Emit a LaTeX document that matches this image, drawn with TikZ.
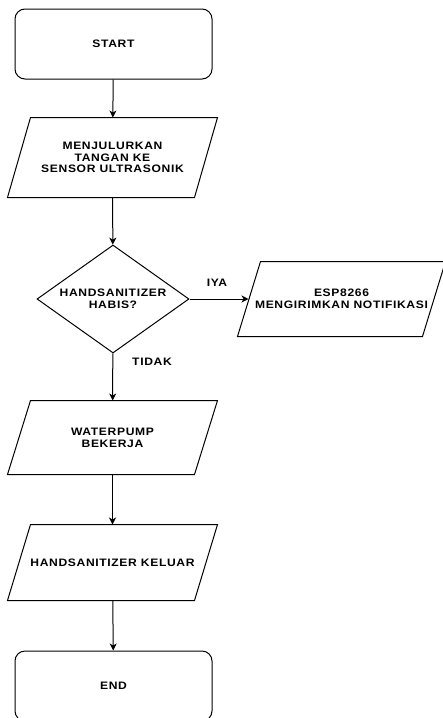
\documentclass[tikz,border=0pt]{standalone}
\usepackage{fontspec}
\setmainfont{Liberation Sans}[LetterSpace=6, FakeStretch=1.12]
\usetikzlibrary{shapes.geometric,arrows.meta}
\tikzset{
  txt/.style={font=\fontsize{10.8}{11.7}\selectfont\bfseries},
  base/.style={txt, draw=black, line width=1pt, inner sep=0pt, align=center},
  terminal/.style={base, rectangle, rounded corners=10pt, minimum width=197pt, minimum height=70pt},
  io/.style={base, draw=none, rectangle, minimum width=209pt,
    append after command={\pgfextra{\draw[draw=black, line width=1pt, line join=miter]
      ([xshift=23pt]\tikzlastnode.north west) -- (\tikzlastnode.north east)
      -- ([xshift=-23pt]\tikzlastnode.south east) -- (\tikzlastnode.south west) -- cycle;}}},
  decision/.style={base, diamond, aspect=1.4, minimum width=152pt, minimum height=108pt},
  flow/.style={draw=black, line width=1pt, -{Stealth[length=7pt,width=7pt,inset=2pt]}},
  lbl/.style={txt, inner sep=0pt}
}
\begin{document}
\begin{tikzpicture}[x=1pt,y=-1pt]
\useasboundingbox (0,0) rectangle (443,718);
\clip (0,0) rectangle (443,718);
\node[terminal] (start) at (113.5,44) {START};
\node[io, minimum height=79pt] (hand) at (112.5,157.5) {MENJULURKAN\\TANGAN KE\\SENSOR ULTRASONIK};
\node[decision] (habis) at (113,299) {HANDSANITIZER\\HABIS?};
\node[io, minimum height=74pt, minimum width=207pt] (esp) at (341.5,299) {ESP8266\\MENGIRIMKAN NOTIFIKASI};
\node[io, minimum height=73pt] (pump) at (112.5,437.5) {WATERPUMP\\BEKERJA};
\node[io, minimum height=75pt] (keluar) at (112.5,562.5) {HANDSANITIZER KELUAR};
\node[terminal] (end) at (113.5,686) {END};
\draw[flow] (start) -- (hand);
\draw[flow] (hand) -- (habis);
\draw[flow] (habis.east) -- ([xshift=11pt]esp.west);
\draw[flow] (habis) -- (pump);
\draw[flow] (pump) -- (keluar);
\draw[flow] (keluar) -- (end);
\node[lbl] (iya) at (217,283) {IYA};
\node[lbl] (tidak) at (152,362) {TIDAK};
\end{tikzpicture}
\end{document}
